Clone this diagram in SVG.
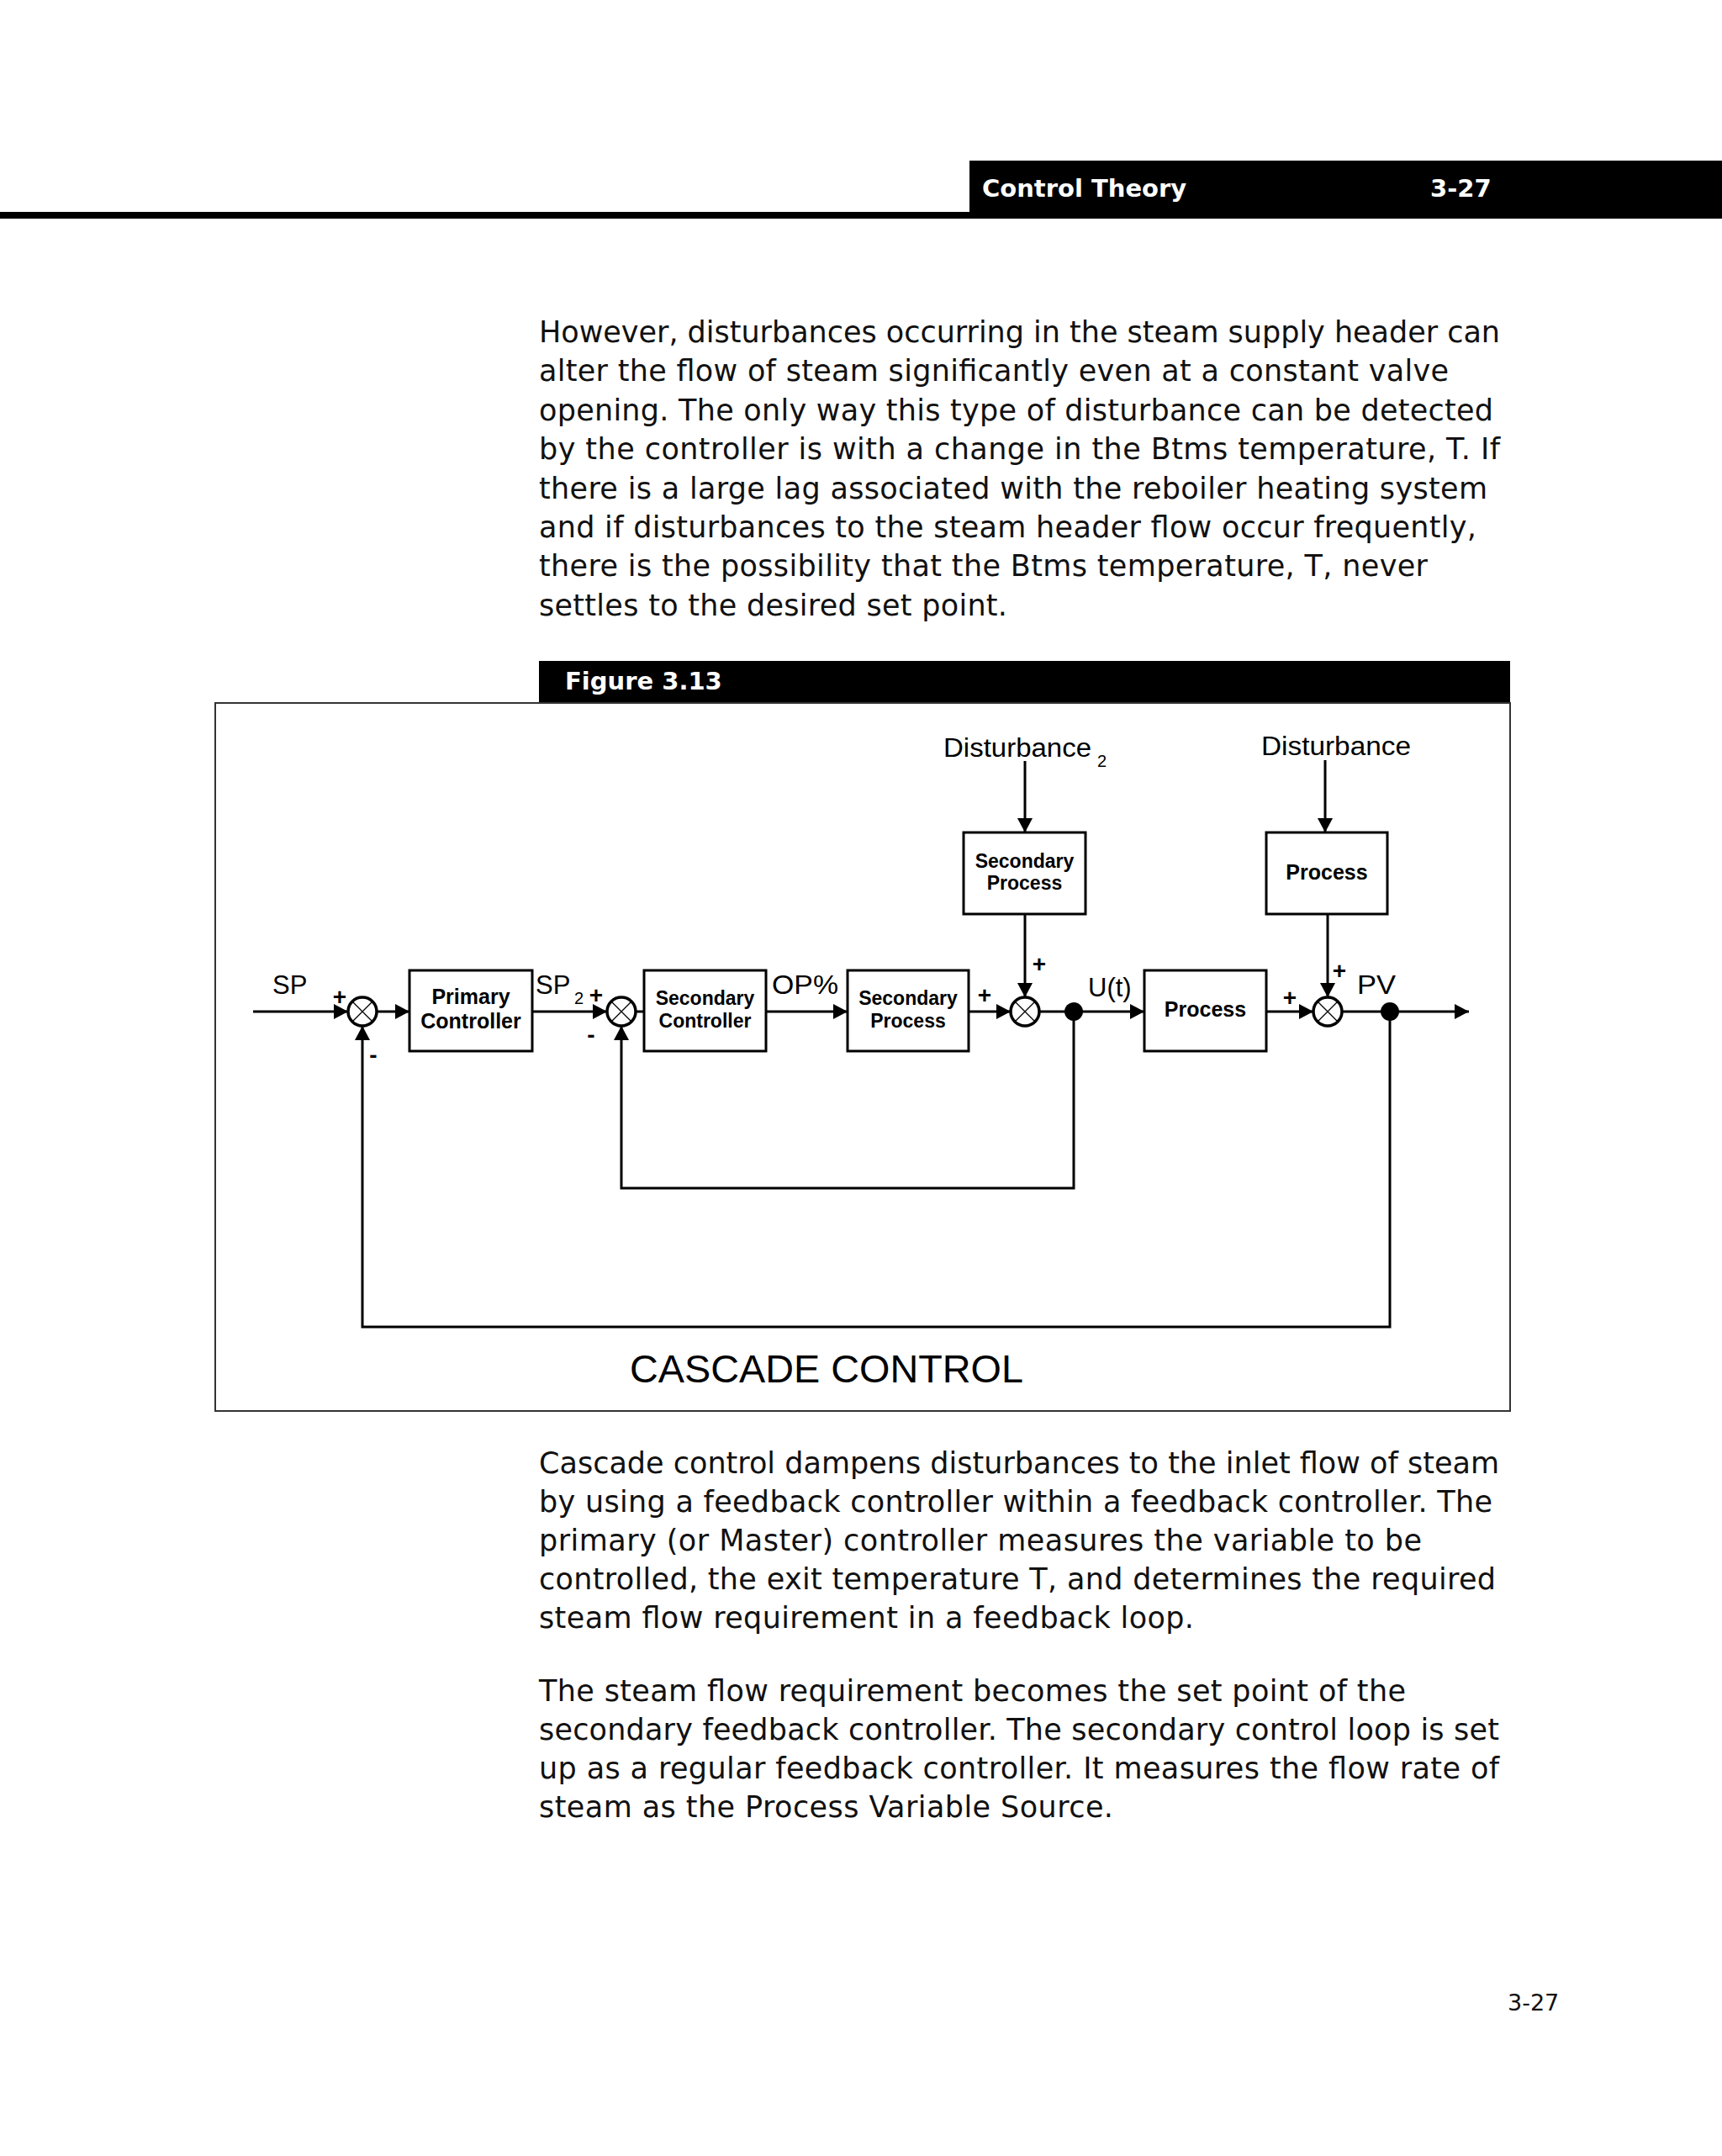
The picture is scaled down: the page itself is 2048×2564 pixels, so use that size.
<svg xmlns="http://www.w3.org/2000/svg" width="2048" height="2564" viewBox="0 0 2048 2564">
<style>
.body{font-family:"DejaVu Sans","Verdana",sans-serif;font-size:35px;fill:#111}
.hdr{font-family:"DejaVu Sans",sans-serif;font-weight:bold;font-size:29px;fill:#fff}
.box{fill:#fff;stroke:#000;stroke-width:3}
.sum{fill:#fff;stroke:#000;stroke-width:3.5}
.x{stroke:#000;stroke-width:1.2}
.ln{fill:none;stroke:#000;stroke-width:3}
.blab{font-family:"Liberation Sans",Arial,sans-serif;font-weight:bold;fill:#000;text-anchor:middle}
.lab{font-family:"Liberation Sans",Arial,sans-serif;fill:#000}
.sign{font-family:"Liberation Sans",Arial,sans-serif;font-weight:bold;font-size:28px;fill:#000;text-anchor:middle}
</style>
<defs>
<marker id="ah" markerUnits="userSpaceOnUse" markerWidth="18" markerHeight="18" refX="17" refY="9" orient="auto">
<path d="M0,0 L17,9 L0,18 z" fill="#000"/>
</marker>
</defs>
<rect width="2048" height="2564" fill="#fff"/>
<!-- header -->
<g id="header">
<rect x="1153" y="191" width="895" height="69" fill="#000"/>
<rect x="0" y="252" width="1153" height="8" fill="#000"/>
<text class="hdr" x="1168" y="234">Control Theory</text>
<text class="hdr" x="1701" y="234">3-27</text>
</g>
<!-- paragraph 1 -->
<g id="para1">
<text class="body" x="641" y="407" textLength="1143" lengthAdjust="spacing">However, disturbances occurring in the steam supply header can</text>
<text class="body" x="641" y="453.4" textLength="1082" lengthAdjust="spacing">alter the flow of steam significantly even at a constant valve</text>
<text class="body" x="641" y="499.8" textLength="1135" lengthAdjust="spacing">opening. The only way this type of disturbance can be detected</text>
<text class="body" x="641" y="546.2" textLength="1143" lengthAdjust="spacing">by the controller is with a change in the Btms temperature, T. If</text>
<text class="body" x="641" y="592.6" textLength="1128" lengthAdjust="spacing">there is a large lag associated with the reboiler heating system</text>
<text class="body" x="641" y="639" textLength="1115" lengthAdjust="spacing">and if disturbances to the steam header flow occur frequently,</text>
<text class="body" x="641" y="685.4" textLength="1057" lengthAdjust="spacing">there is the possibility that the Btms temperature, T, never</text>
<text class="body" x="641" y="731.8" textLength="557" lengthAdjust="spacing">settles to the desired set point.</text>
</g>
<!-- figure frame -->
<g id="figure-frame">
<rect x="641" y="786" width="1155" height="50" fill="#000"/>
<text class="hdr" x="672" y="820">Figure 3.13</text>
<rect x="256" y="836" width="1540" height="842" fill="none" stroke="#333" stroke-width="2"/>
</g>
<!-- connectors -->
<g id="connectors">
<line class="ln" x1="301" y1="1203" x2="414" y2="1203" marker-end="url(#ah)"/>
<line class="ln" x1="448" y1="1203" x2="487" y2="1203" marker-end="url(#ah)"/>
<line class="ln" x1="633" y1="1203" x2="722" y2="1203" marker-end="url(#ah)"/>
<line class="ln" x1="756" y1="1203" x2="766" y2="1203"/>
<line class="ln" x1="911" y1="1203" x2="1008" y2="1203" marker-end="url(#ah)"/>
<line class="ln" x1="1152" y1="1203" x2="1202" y2="1203" marker-end="url(#ah)"/>
<line class="ln" x1="1236" y1="1203" x2="1361" y2="1203" marker-end="url(#ah)"/>
<line class="ln" x1="1506" y1="1203" x2="1562" y2="1203" marker-end="url(#ah)"/>
<line class="ln" x1="1596" y1="1203" x2="1747" y2="1203" marker-end="url(#ah)"/>
<line class="ln" x1="1219" y1="905" x2="1219" y2="990" marker-end="url(#ah)"/>
<line class="ln" x1="1219" y1="1087" x2="1219" y2="1186" marker-end="url(#ah)"/>
<line class="ln" x1="1576" y1="904" x2="1576" y2="990" marker-end="url(#ah)"/>
<line class="ln" x1="1579" y1="1087" x2="1579" y2="1186" marker-end="url(#ah)"/>
<polyline class="ln" points="1277,1203 1277,1413 739,1413 739,1220" marker-end="url(#ah)"/>
<polyline class="ln" points="1653,1203 1653,1578 431,1578 431,1220" marker-end="url(#ah)"/>
<circle cx="1277" cy="1203" r="11" fill="#000"/>
<circle cx="1653" cy="1203" r="11" fill="#000"/>
</g>
<!-- nodes -->
<g id="sum1">
<circle class="sum" cx="431" cy="1203" r="17"/>
<line class="x" x1="419" y1="1191" x2="443" y2="1215"/><line class="x" x1="443" y1="1191" x2="419" y2="1215"/>
</g>
<g id="sum2">
<circle class="sum" cx="739" cy="1203" r="17"/>
<line class="x" x1="727" y1="1191" x2="751" y2="1215"/><line class="x" x1="751" y1="1191" x2="727" y2="1215"/>
</g>
<g id="sum3">
<circle class="sum" cx="1219" cy="1203" r="17"/>
<line class="x" x1="1207" y1="1191" x2="1231" y2="1215"/><line class="x" x1="1231" y1="1191" x2="1207" y2="1215"/>
</g>
<g id="sum4">
<circle class="sum" cx="1579" cy="1203" r="17"/>
<line class="x" x1="1567" y1="1191" x2="1591" y2="1215"/><line class="x" x1="1591" y1="1191" x2="1567" y2="1215"/>
</g>
<g id="primary-controller">
<rect class="box" x="487" y="1154" width="146" height="96"/>
<text class="blab" x="560" y="1194" style="font-size:25px">Primary</text>
<text class="blab" x="560" y="1223" style="font-size:25px">Controller</text>
</g>
<g id="secondary-controller">
<rect class="box" x="766" y="1154" width="145" height="96"/>
<text class="blab" x="838.5" y="1195" style="font-size:23px">Secondary</text>
<text class="blab" x="838.5" y="1222" style="font-size:23px">Controller</text>
</g>
<g id="secondary-process">
<rect class="box" x="1008" y="1154" width="144" height="96"/>
<text class="blab" x="1080" y="1195" style="font-size:23px">Secondary</text>
<text class="blab" x="1080" y="1222" style="font-size:23px">Process</text>
</g>
<g id="process">
<rect class="box" x="1361" y="1154" width="145" height="96"/>
<text class="blab" x="1433.5" y="1209" style="font-size:25px">Process</text>
</g>
<g id="disturbance2-secondary-process">
<rect class="box" x="1146" y="990" width="145" height="97"/>
<text class="blab" x="1218.5" y="1032" style="font-size:23px">Secondary</text>
<text class="blab" x="1218.5" y="1058" style="font-size:23px">Process</text>
</g>
<g id="disturbance-process">
<rect class="box" x="1506" y="990" width="144" height="97"/>
<text class="blab" x="1578" y="1046" style="font-size:25px">Process</text>
</g>
<!-- labels -->
<g id="labels">
<text class="lab" x="324" y="1182" style="font-size:31px">SP</text>
<text class="lab" x="637" y="1182" style="font-size:31px">SP</text>
<text class="lab" x="683" y="1194" style="font-size:20px">2</text>
<text class="lab" x="918" y="1182" style="font-size:31px" textLength="79" lengthAdjust="spacingAndGlyphs">OP%</text>
<text class="lab" x="1294" y="1185" style="font-size:31px">U(t)</text>
<text class="lab" x="1614" y="1182" style="font-size:31px" textLength="46" lengthAdjust="spacingAndGlyphs">PV</text>
<text class="lab" x="1122" y="900" style="font-size:31px" textLength="176" lengthAdjust="spacingAndGlyphs">Disturbance</text>
<text class="lab" x="1305" y="912" style="font-size:20px">2</text>
<text class="lab" x="1500" y="898" style="font-size:31px" textLength="178" lengthAdjust="spacingAndGlyphs">Disturbance</text>
<text class="sign" x="404" y="1195">+</text>
<text class="sign" x="444" y="1264">-</text>
<text class="sign" x="709" y="1193">+</text>
<text class="sign" x="703" y="1240">-</text>
<text class="sign" x="1171" y="1193">+</text>
<text class="sign" x="1236" y="1156">+</text>
<text class="sign" x="1534" y="1196">+</text>
<text class="sign" x="1593" y="1164">+</text>
<text class="lab" x="749" y="1644" style="font-size:47px" textLength="468" lengthAdjust="spacingAndGlyphs">CASCADE CONTROL</text>
</g>
<!-- paragraph 2 -->
<g id="para2">
<text class="body" x="641" y="1752" textLength="1142" lengthAdjust="spacing">Cascade control dampens disturbances to the inlet flow of steam</text>
<text class="body" x="641" y="1797.9" textLength="1134" lengthAdjust="spacing">by using a feedback controller within a feedback controller. The</text>
<text class="body" x="641" y="1843.8" textLength="1050" lengthAdjust="spacing">primary (or Master) controller measures the variable to be</text>
<text class="body" x="641" y="1889.7" textLength="1138" lengthAdjust="spacing">controlled, the exit temperature T, and determines the required</text>
<text class="body" x="641" y="1935.6" textLength="779" lengthAdjust="spacing">steam flow requirement in a feedback loop.</text>
</g>
<g id="para3">
<text class="body" x="641" y="2023" textLength="1031" lengthAdjust="spacing">The steam flow requirement becomes the set point of the</text>
<text class="body" x="641" y="2069.1" textLength="1142" lengthAdjust="spacing">secondary feedback controller. The secondary control loop is set</text>
<text class="body" x="641" y="2115.2" textLength="1142" lengthAdjust="spacing">up as a regular feedback controller. It measures the flow rate of</text>
<text class="body" x="641" y="2161.3" textLength="683" lengthAdjust="spacing">steam as the Process Variable Source.</text>
</g>
<text class="body" x="1793" y="2391" style="font-size:27px">3-27</text>
</svg>
